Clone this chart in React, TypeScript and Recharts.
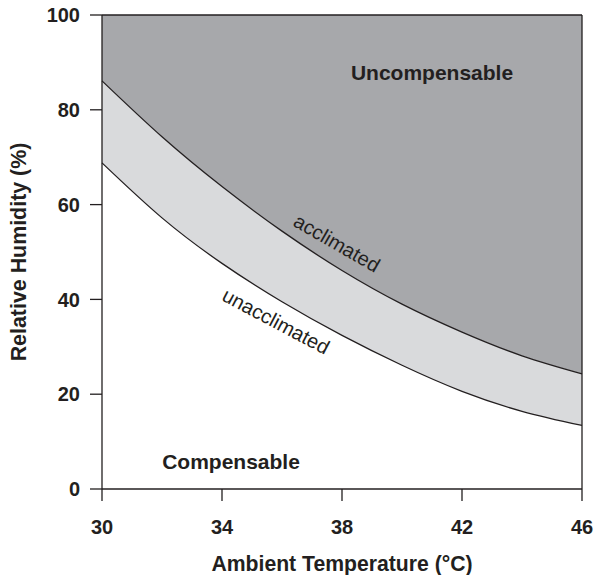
import React from 'react';
import { ComposedChart, Area, Line, XAxis, YAxis, ReferenceLine, ReferenceDot } from 'recharts';

const temperatures = [30, 32, 34, 36, 38, 40, 42, 44, 46];
const acclimated = [86.1, 74.3, 63.8, 54.4, 46.1, 39.0, 33.1, 28.1, 24.3];
const unacclimated = [68.8, 57.2, 47.6, 39.5, 32.4, 26.1, 20.6, 16.4, 13.4];
const xTicks = [30, 34, 38, 42, 46];
const yTicks = [0, 20, 40, 60, 80, 100];

const FONT = '"Liberation Sans", Arial, Helvetica, sans-serif';
const INK = '#231f20';
const DARK = '#a7a8ab';
const LIGHT = '#d9dadc';

const data = temperatures.map((t, i) => ({
  t,
  accl: acclimated[i],
  unaccl: unacclimated[i],
  upper: [acclimated[i], 100],
  band: [unacclimated[i], acclimated[i]],
}));

const makeLabel = (text: string, opts: { bold?: boolean; angle?: number; size?: number }) => (props: any) => {
  const vb = props.viewBox || {};
  const cx = (vb.x ?? 0) + (vb.width ?? 0) / 2;
  const cy = (vb.y ?? 0) + (vb.height ?? 0) / 2;
  return (
    <text
      x={cx}
      y={cy}
      textAnchor="middle"
      dominantBaseline="central"
      fill={INK}
      fontFamily={FONT}
      fontSize={opts.size ?? 20}
      fontWeight={opts.bold ? 'bold' : 'normal'}
      transform={opts.angle ? `rotate(${opts.angle} ${cx} ${cy})` : undefined}
    >
      {text}
    </text>
  );
};

const yTitle = (props: any) => {
  const vb = props.viewBox || {};
  const cx = 19;
  const cy = (vb.y ?? 0) + (vb.height ?? 0) / 2;
  return (
    <text
      x={cx}
      y={cy}
      textAnchor="middle"
      dominantBaseline="central"
      fill={INK}
      fontFamily={FONT}
      fontSize={21.4}
      fontWeight="bold"
      transform={`rotate(-90 ${cx} ${cy})`}
    >
      Relative Humidity (%)
    </text>
  );
};

const xTitle = (props: any) => {
  const vb = props.viewBox || {};
  const cx = (vb.x ?? 0) + (vb.width ?? 0) / 2;
  const cy = 563;
  return (
    <text
      x={cx}
      y={cy}
      textAnchor="middle"
      dominantBaseline="central"
      fill={INK}
      fontFamily={FONT}
      fontSize={21.2}
      fontWeight="bold"
    >
      Ambient Temperature (°C)
    </text>
  );
};

const tickStyle = { fill: INK, fontFamily: FONT, fontSize: 20, fontWeight: 'bold' as const };

export default function App() {
  return (
    <div style={{ position: 'absolute', left: 0, top: 0, background: '#fff' }}>
      <ComposedChart
        width={602}
        height={575}
        data={data}
        margin={{ top: 15, right: 20, bottom: 0, left: 0 }}
      >
        <XAxis
          dataKey="t"
          type="number"
          domain={[30, 46]}
          ticks={xTicks}
          tickSize={12}
          tickMargin={19}
          height={86}
          axisLine={{ stroke: INK, strokeWidth: 1.3 }}
          tickLine={{ stroke: INK, strokeWidth: 1.3 }}
          tick={tickStyle}
          label={{ content: xTitle }}
        />
        <YAxis
          type="number"
          domain={[0, 100]}
          ticks={yTicks}
          tickSize={12}
          tickMargin={10}
          width={102}
          axisLine={{ stroke: INK, strokeWidth: 1.3 }}
          tickLine={{ stroke: INK, strokeWidth: 1.3 }}
          tick={tickStyle}
          label={{ content: yTitle }}
        />
        <Area
          dataKey="upper"
          type="natural"
          fill={DARK}
          fillOpacity={1}
          stroke="none"
          isAnimationActive={false}
        />
        <Area
          dataKey="band"
          type="natural"
          fill={LIGHT}
          fillOpacity={1}
          stroke="none"
          isAnimationActive={false}
        />
        <Line dataKey="accl" type="natural" stroke={INK} strokeWidth={1.3} dot={false} isAnimationActive={false} />
        <Line dataKey="unaccl" type="natural" stroke={INK} strokeWidth={1.3} dot={false} isAnimationActive={false} />
        <ReferenceLine y={100} stroke={INK} strokeWidth={1.3} />
        <ReferenceLine x={46} stroke={INK} strokeWidth={1.3} />
        <ReferenceDot x={41} y={87.8} r={0} stroke="none" fill="none" label={{ content: makeLabel('Uncompensable', { bold: true, size: 21 }) }} />
        <ReferenceDot x={34.3} y={5.9} r={0} stroke="none" fill="none" label={{ content: makeLabel('Compensable', { bold: true, size: 21 }) }} />
        <ReferenceDot x={37.83} y={51.9} r={0} stroke="none" fill="none" label={{ content: makeLabel('acclimated', { angle: 30 }) }} />
        <ReferenceDot x={35.8} y={35.4} r={0} stroke="none" fill="none" label={{ content: makeLabel('unacclimated', { angle: 28 }) }} />
      </ComposedChart>
    </div>
  );
}
